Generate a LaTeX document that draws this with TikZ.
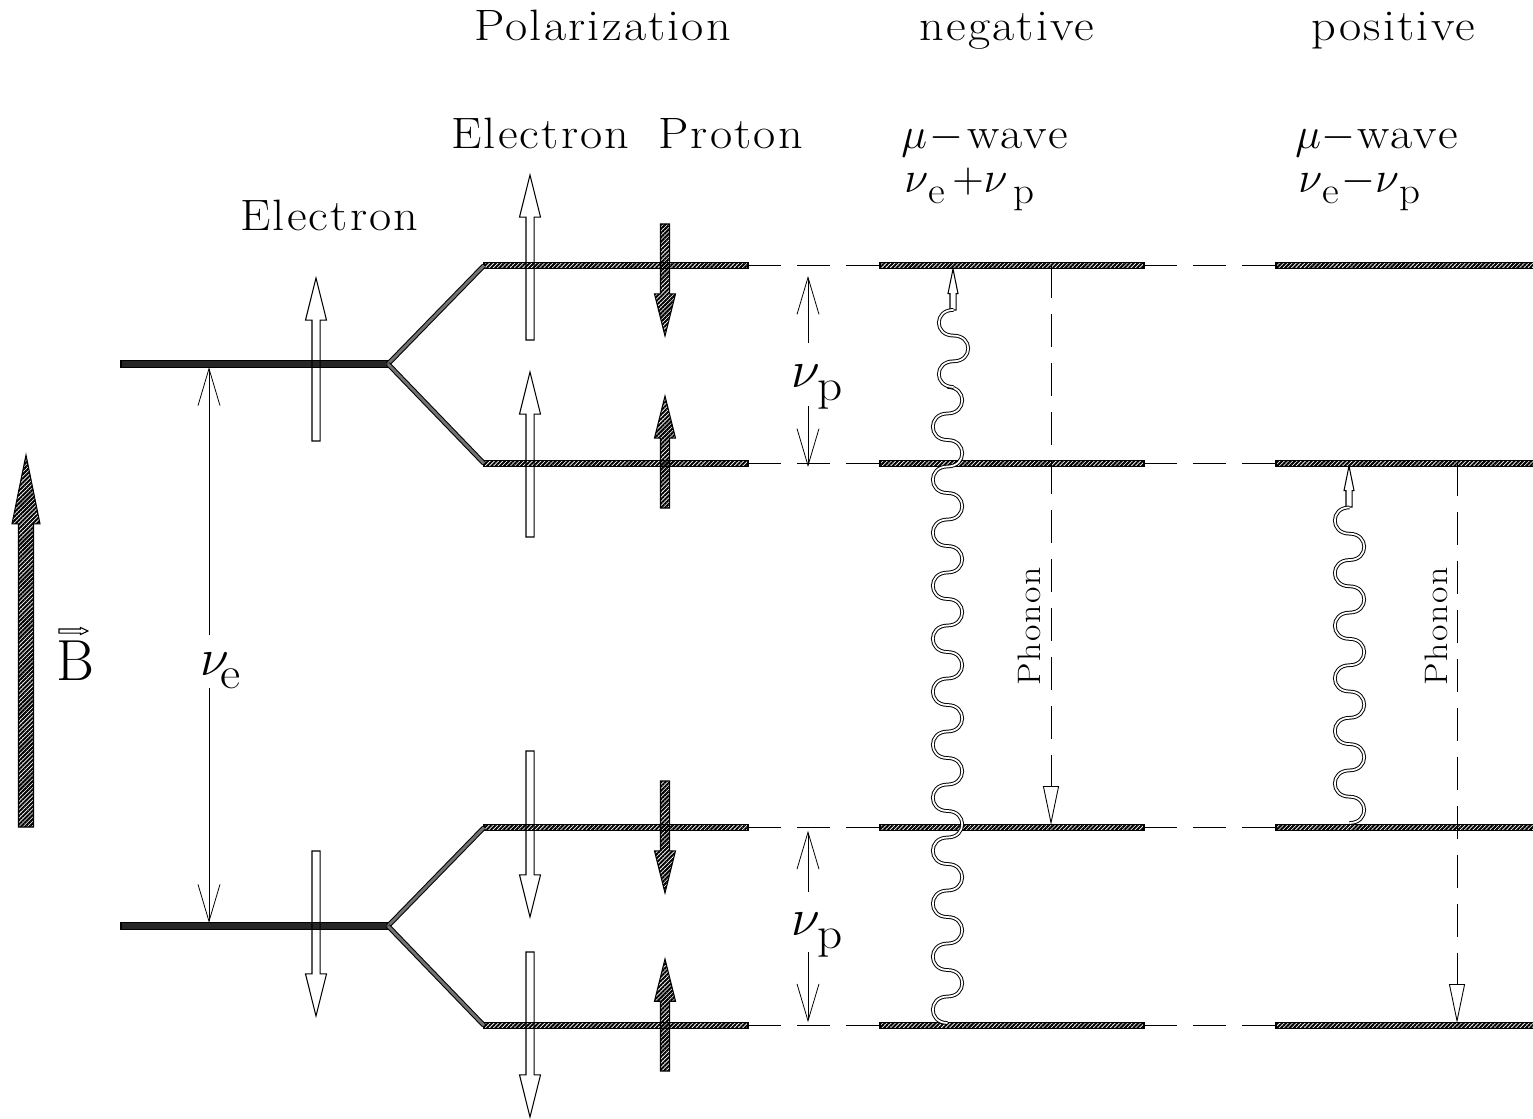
\documentclass[tikz,border=0pt]{standalone}
\usepackage{fontspec}
\setmainfont{lmroman17-regular.otf}
\usetikzlibrary{arrows.meta, positioning, patterns.meta, shapes.arrows}

% nu with a dropped upright index
\newcommand{\nusub}[1]{$\nu$\raisebox{-.25em}{\scalebox{.85}{#1}}}
% chain of half waves, sign #3 = 1 starts to the left
\newcommand{\wavy}[4]{\draw[wave] (#1) \foreach \i [evaluate=\i as \s using {#3*(iseven(\i)?19.6:-19.6)}] in {1,...,#2} { .. controls +(\s,0) and +(\s,0) .. ++(0,-#4) };}

\tikzset{
  hatch/.style={pattern={Lines[angle=45,distance=1.7pt,line width=1.15pt]}, pattern color=black},
  level/.style={draw, line width=.7pt, hatch, inner sep=0pt, outer sep=0pt, minimum height=.13cm, minimum width=#1*0.02cm},
  elevel/.style={draw, line width=.7pt, fill=black!85, inner sep=0pt, outer sep=0pt, minimum height=.13cm, minimum width=#1*0.02cm},
  spin/.style={single arrow, draw, line width=.6pt, inner sep=.07cm, outer sep=0pt, anchor=tail,
    single arrow head extend=.13cm, single arrow tip angle=28, minimum height=#1*0.02cm},
  thinspin/.style={spin=#1, inner sep=.05cm, single arrow head extend=.04cm, single arrow tip angle=23},
  protspin/.style={spin=#1, hatch, inner sep=.08cm, single arrow head extend=.12cm},
  branch/.style={line width=.6pt, double=black!55, double distance=1.6pt},
  wave/.style={line width=.55pt, double, double distance=1pt},
  link/.style={line width=.5pt, dash pattern=on .66cm off .32cm},
  phonon/.style={link, -{Triangle[open,length=.78cm,width=.32cm]}},
  freq/.style={line width=.45pt, -{Straight Barb[length=.74cm,width=.44cm]}},
  txt/.style={inner sep=0pt, anchor=base west, font=\fontsize{25}{30}\selectfont\addfontfeature{FakeStretch=1.1,LetterSpace=5}},
  phtxt/.style={inner sep=0pt, anchor=base, rotate=90, font=\fontsize{18.5}{20}\selectfont\addfontfeature{FakeStretch=1.1,LetterSpace=5}}
}

\begin{document}
\begin{tikzpicture}[x=0.02cm, y=-0.02cm]
  \useasboundingbox (0,0) rectangle (1533,1118);

  % phonons go under the levels
  \coordinate (phn1) at (1051,265);
  \coordinate (phn2) at (1051,825);
  \coordinate (php1) at (1457,463);
  \coordinate (php2) at (1457,1023);
  \draw[phonon] (phn1) -- (phn2);
  \draw[phonon] (php1) -- (php2);

  % levels
  \node[elevel=267] (e1) at (254.5,364) {};
  \node[elevel=267] (e2) at (254.5,926) {};

  \node[level=264] (a1) at (616,265.5) {};
  \node[level=264] (a2) at (616,463.5) {};
  \node[level=264] (a3) at (616,827.5) {};
  \node[level=264] (a4) at (616,1025.5) {};

  \node[level=264] (n1) [right=2.64cm of a1] {};
  \node[level=264] (n2) [right=2.64cm of a2] {};
  \node[level=264] (n3) [right=2.64cm of a3] {};
  \node[level=264] (n4) [right=2.64cm of a4] {};

  \node[level=258] (p1) [right=2.64cm of n1] {};
  \node[level=258] (p2) [right=2.64cm of n2] {};
  \node[level=258] (p3) [right=2.64cm of n3] {};
  \node[level=258] (p4) [right=2.64cm of n4] {};

  \foreach \i in {1,2,3,4} {
    \draw[link] (a\i.east) -- (n\i.west);
    \draw[link] (n\i.east) -- (p\i.west);
  }

  \draw[branch] (e1.east) -- (a1.west);
  \draw[branch] (e1.east) -- (a2.west);
  \draw[branch] (e2.east) -- (a3.west);
  \draw[branch] (e2.east) -- (a4.west);

  % spins
  \node[spin=163, shape border rotate=90]  (su)  at (316,441)  {};
  \node[spin=165, shape border rotate=270] (sd)  at (316,851)  {};
  \node[spin=165, shape border rotate=90]  (s1)  at (530,340)  {};
  \node[spin=165, shape border rotate=90]  (s2)  at (530,537)  {};
  \node[spin=166, shape border rotate=270] (s3)  at (530,751)  {};
  \node[spin=165, shape border rotate=270] (s4)  at (530,952)  {};
  \node[protspin=112, shape border rotate=270] (h1) at (665,224)  {};
  \node[protspin=112, shape border rotate=90]  (h2) at (665,508)  {};
  \node[protspin=112, shape border rotate=270] (h3) at (665,781)  {};
  \node[protspin=112, shape border rotate=90]  (h4) at (665,1071) {};
  \node[protspin=372, shape border rotate=90, inner sep=.14cm, single arrow head extend=.13cm, single arrow tip angle=23] (field) at (26,827) {};
  \node[thinspin=41, shape border rotate=90] (mw1) at (953,310) {};
  \node[thinspin=41, shape border rotate=90] (mw2) at (1349,507) {};

  % microwaves
  \coordinate (wn1) at (947.5,1023);
  \coordinate (wn2) at (953.5,387);
  \coordinate (wp1) at (1349.5,823);
  \wavy{wn1}{24}{1}{26.5}
  \wavy{wn2}{3}{1}{25.7}
  \wavy{wp1}{12}{-1}{26.3}

  % frequencies
  \node[txt] (nue) at (200,675) {\scalebox{1.2}{\nusub{\kern-.2em e}}};
  \coordinate (nuea) at (209,635);
  \coordinate (nueb) at (209,688);
  \draw[freq] (nuea) -- (nuea |- e1.south);
  \draw[freq] (nueb) -- (nueb |- e2.north);

  \node[txt] (nup1) at (791,387) {\scalebox{1.2}{\nusub{\kern-.05em p}}};
  \node[txt] (nup2) at (791,935) {\scalebox{1.2}{\nusub{\kern-.05em p}}};
  \coordinate (up1) at (808,343);
  \coordinate (up2) at (808,406);
  \coordinate (up3) at (808,892);
  \coordinate (up4) at (808,952);
  \coordinate (tip1) at (808,276);
  \coordinate (tip2) at (808,467);
  \draw[freq] (up1) -- (tip1);
  \draw[freq] (up2) -- (tip2);
  \draw[freq] (up3) -- (up3 |- a3.south);
  \draw[freq] (up4) -- (up4 |- a4.north);

  % texts
  \node[txt] (tpol) at (474,41) {Polarization};
  \node[txt] (tneg) at (919,41) {negative};
  \node[txt] (tpos) at (1311,41) {positive};
  \node[txt] (tel)  at (451,149) {Electron};
  \node[txt] (tpr)  at (658,149) {Proton};
  \node[txt] (tel2) at (240,231) {Electron};
  \node[txt] (mun)  at (901,149) {$\mu$\kern.05em$-$\kern.1em wave};
  \node[txt] (mup)  at (1295,149) {$\mu$$-$\kern.05em wave};
  \node[txt] (nnu)  at (904,193) {\nusub{e}\,$+$\nusub{\,p}};
  \node[txt] (pnu)  at (1298,193) {\nusub{e}\kern.05em$-$\nusub{p}};
  \node[phtxt] (pho1) at (1040,626) {Phonon};
  \node[phtxt] (pho2) at (1447,626) {Phonon};
  \node[inner sep=0pt, anchor=base, font=\fontsize{25}{30}\selectfont] (fb) at (75,680) {\scalebox{1.32}{$\mathrm{B}$}};
  \node[thinspin=29, shape border rotate=0, inner sep=.03cm, single arrow head extend=.03cm, single arrow tip angle=50] (fbv) at (59,631) {};
\end{tikzpicture}
\end{document}
